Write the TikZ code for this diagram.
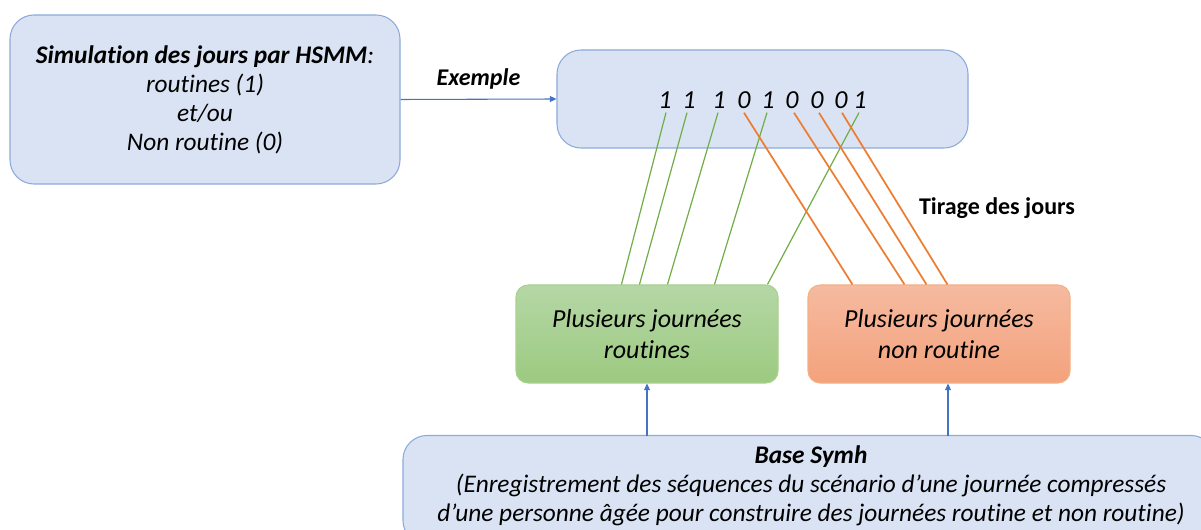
\documentclass[tikz,border=0pt]{standalone}
\usepackage{fontspec}
\setmainfont{Carlito}[Ligatures=NoCommon]
\usetikzlibrary{arrows.meta,calc}
\definecolor{bfill}{HTML}{DAE3F3}
\definecolor{bdraw}{HTML}{8EA9DB}
\definecolor{arrblue}{HTML}{4472C4}
\definecolor{gline}{HTML}{70AD47}
\definecolor{oline}{HTML}{ED7D31}
\definecolor{gtop}{HTML}{B5D7A6}
\definecolor{gbot}{HTML}{9CCA80}
\definecolor{gdraw}{HTML}{A9D18E}
\definecolor{otop}{HTML}{F5BAA0}
\definecolor{obot}{HTML}{F4A27C}
\definecolor{odraw}{HTML}{F4B183}
\tikzset{
  bluebox/.style={draw=bdraw, fill=bfill, rounded corners=18pt, line width=0.8pt, align=center,
    font=\fontsize{19}{21.75}\selectfont\itshape},
  greenbox/.style={draw=gdraw, top color=gtop, bottom color=gbot, rounded corners=9pt, line width=0.8pt,
    align=center, minimum width=196.5pt, minimum height=73.5pt, font=\fontsize{19.5}{23}\selectfont\itshape},
  orangebox/.style={greenbox, draw=odraw, top color=otop, bottom color=obot},
  digit/.style={inner sep=0pt, font=\fontsize{19.5}{20}\selectfont\itshape},
  glink/.style={draw=gline, line width=0.9pt},
  olink/.style={draw=oline, line width=1.3pt},
  barrow/.style={draw=arrblue, line width=0.8pt, -{Triangle[length=5pt,width=4.5pt]}},
  lbl/.style={font=\fontsize{18}{20}\selectfont\bfseries}
}
\begin{document}
\begin{tikzpicture}[x=0.75pt,y=-0.75pt]
\useasboundingbox (0,0) rectangle (1201,530);
\clip (0,0) rectangle (1201,530);
\node[bluebox, minimum width=292.5pt, minimum height=126.75pt] (sim) at (205,99.5)
  {\textbf{Simulation des jours par HSMM}:\\routines (1)\\et/ou\\Non routine (0)};
\node[bluebox, minimum width=308.25pt, minimum height=73.5pt] (ex) at (762.5,99) {};
\node[greenbox] (g) at (647,334) {Plusieurs journées\\routines};
\node[orangebox] (o) at (939,334) {Plusieurs journées\\non routine};
\node[bluebox, minimum width=609pt, minimum height=81.75pt] (base) at (809,490) {};
\node[bluebox, draw=none, fill=none, inner sep=0pt] (basetxt) at (811,486)
  {\textbf{Base Symh}\\(Enregistrement des séquences du scénario d’une journée compressés\\d’une personne âgée pour construire des journées routine et non routine)};
% digits
\node[digit] (d1) at (665,100) {1};
\node[digit] (d2) at (689,100) {1};
\node[digit] (d3) at (719,100) {1};
\node[digit] (d4) at (744,100) {0};
\node[digit] (d5) at (768,100) {1};
\node[digit] (d6) at (792,100) {0};
\node[digit] (d7) at (817,100) {0};
\node[digit] (d8) at (841,100) {0};
\node[digit] (d9) at (860,100) {1};
% arrows
\draw[barrow] (sim.east) -- node[above=4pt, font=\fontsize{18}{20}\selectfont\bfseries\itshape] (exl) {Exemple} (ex.west);
\coordinate (ga) at (647,436);
\coordinate (oa) at (948,436);
\draw[barrow] (ga) -- (ga |- g.south);
\draw[barrow] (oa) -- (oa |- o.south);
% green links
\draw[glink] (d1.south) ++(1,4) -- ($(g.north west)+(106,0)$);
\draw[glink] (d2.south) ++(-2,4) -- ($(g.north west)+(124,0)$);
\draw[glink] (d3.south) ++(-1,4) -- ($(g.north west)+(152,0)$);
\draw[glink] (d5.south) ++(-1,4) -- ($(g.north west)+(199,0)$);
\draw[glink] (d9.south) ++(-1,4) -- ($(g.north west)+(252,0)$);
% orange links
\draw[olink] (d4.south) ++(0,4) -- ($(o.north west)+(45,0)$);
\draw[olink] (d6.south) ++(2,4) -- ($(o.north west)+(97,0)$);
\draw[olink] (d7.south) ++(2,4) -- ($(o.north west)+(119,0)$);
\draw[olink] (d8.south) ++(1,4) -- ($(o.north west)+(140,0)$);
\node[lbl] (tir) at (997,208) {Tirage des jours};
\end{tikzpicture}
\end{document}
